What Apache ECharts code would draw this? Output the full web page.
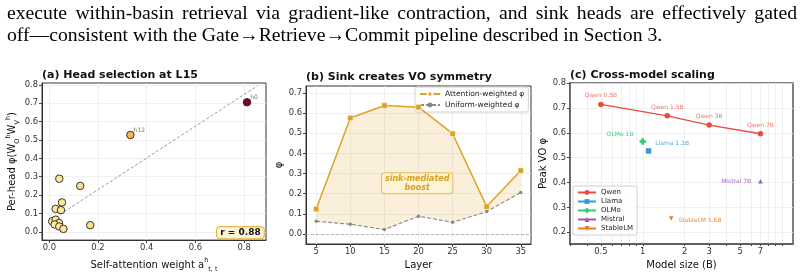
<!DOCTYPE html>
<html lang="en">
<head>
<meta charset="UTF-8">
<title>VO symmetry figure</title>
<script src="https://cdn.jsdelivr.net/npm/echarts@6/dist/echarts.min.js"></script>
<style>
  body { margin: 0; background: #fff; }
  #wrap { position: relative; width: 804px; height: 278px; overflow: hidden; }
  #main { position: absolute; left: 0; top: 0; width: 804px; height: 278px; }
  .txt { position: absolute; left: 7px; width: 790px; font-family: "Liberation Serif", serif;
         font-size: 19.7px; line-height: 22px; color: #000; white-space: nowrap; }
  #l1 { top: 1px; text-align: justify; text-align-last: justify; white-space: normal; }
  #l2 { top: 23px; }
</style>
</head>
<body>
<div id="wrap">
  <div id="main"></div>
  <div class="txt" id="l1">execute within-basin retrieval via gradient-like contraction, and sink heads are effectively gated</div>
  <div class="txt" id="l2">off—consistent with the Gate→Retrieve→Commit pipeline described in Section 3.</div>
</div>

<script type="text/javascript">
  // (a) per-head scatter at layer 15
  var headX = [0.812, 0.333, 0.041, 0.127, 0.052, 0.026, 0.048, 0.012, 0.026, 0.040, 0.022, 0.041, 0.058, 0.168];
  var headY = [0.705, 0.527, 0.289, 0.250, 0.160, 0.125, 0.118, 0.058, 0.066, 0.048, 0.040, 0.029, 0.016, 0.036];
  var headNames = ['h0', 'h12', '', '', '', '', '', '', '', '', '', '', '', ''];
  var fitX = [0.026, 0.855];
  var fitY = [0.079, 0.795];
  var corrText = 'r = 0.88';

  // (b) attention vs uniform weighted phi per layer
  var layers = [5, 10, 15, 20, 25, 30, 35];
  var attnPhi = [0.124, 0.576, 0.638, 0.630, 0.498, 0.136, 0.315];
  var unifPhi = [0.063, 0.048, 0.022, 0.088, 0.058, 0.111, 0.206];

  // (c) peak VO phi vs model size (B), x axis is log10 of size
  var qwenSize = [0.5, 1.5, 3, 7];
  var qwenPeak = [0.714, 0.668, 0.631, 0.596];
  var qwenNames = ['Qwen 0.5B', 'Qwen 1.5B', 'Qwen 3B', 'Qwen 7B'];
  var llamaSize = [1.1], llamaPeak = [0.527];
  var olmoSize = [1.0], olmoPeak = [0.565];
  var mistralSize = [7], mistralPeak = [0.405];
  var stableSize = [1.6], stablePeak = [0.255];
  var sizeTicks = [0.5, 1, 2, 3, 5, 7];
  var sizeMinor = [0.3, 0.4, 0.5, 0.6, 0.7, 0.8, 0.9, 1, 2, 3, 4, 5, 6, 7, 8, 9, 10];

  var FONT = 'DejaVu Sans';
  var GOLD = '#dba324';

  function pairs(xs, ys) {
    return xs.map(function (x, i) { return [x, ys[i]]; });
  }
  function logPairs(xs, ys) {
    return xs.map(function (x, i) { return [Math.log10(x), ys[i]]; });
  }
  function range(a, b, s) {
    var r = [];
    for (var v = a; v <= b + 1e-9; v += s) r.push(Math.round(v * 100) / 100);
    return r;
  }
  function fix1(v) { return v.toFixed(1); }

  var tickLabel = { fontFamily: FONT, fontSize: 8.4, color: '#333', margin: 4 };
  var nameStyle = { fontFamily: FONT, fontSize: 10, color: '#111' };
  var split = { show: true, lineStyle: { color: '#ebebeb', width: 0.8 } };
  var axLine = { show: true, onZero: false, lineStyle: { color: '#333', width: 1 } };
  var axLineC = { show: true, onZero: false, lineStyle: { color: '#555', width: 1.5 } };
  var tick = function (vals, len) {
    return { show: true, length: len || 3, customValues: vals, lineStyle: { color: '#444' } };
  };
  var titleStyle = { fontFamily: FONT, fontSize: 11, fontWeight: 'bold', color: '#111' };
  var subRich = {
    t: { fontFamily: FONT, fontSize: 10, color: '#111', lineHeight: 16, verticalAlign: 'middle' },
    s: { fontFamily: FONT, fontSize: 6.5, color: '#111', lineHeight: 16, verticalAlign: 'top' },
    b: { fontFamily: FONT, fontSize: 6.5, color: '#111', lineHeight: 16, verticalAlign: 'bottom' }
  };

  var myChart = echarts.init(document.getElementById('main'));

  var option = {
    backgroundColor: '#fff',
    animation: false,
    textStyle: { fontFamily: FONT },
    title: [
      { text: '(a) Head selection at L15', left: 42, top: 70, textStyle: titleStyle, padding: 0 },
      { text: '(b) Sink creates VO symmetry', left: 306, top: 72, textStyle: titleStyle, padding: 0 },
      { text: '(c) Cross-model scaling', left: 570, top: 70, textStyle: titleStyle, padding: 0 }
    ],
    grid: [
      { left: 42, top: 83, width: 224, height: 160, show: true, borderColor: '#333', borderWidth: 1 },
      { left: 306, top: 86, width: 225, height: 158, show: true, borderColor: '#333', borderWidth: 1 },
      { left: 570, top: 83, width: 223, height: 161, show: true, borderColor: '#555', borderWidth: 1.5 }
    ],
    visualMap: {
      show: false, seriesIndex: 0, dimension: 0, min: 0, max: 0.81,
      inRange: { color: ['#fde9a0', '#fcd884', '#fd9d43', '#cf2a1f', '#800026'] }
    },
    legend: [
      {
        data: ['Attention-weighted φ', 'Uniform-weighted φ'],
        orient: 'vertical', left: 415, top: 87, itemWidth: 20, itemHeight: 6, itemGap: 3,
        padding: [3, 4, 3, 4], borderColor: '#d0d0d0', borderWidth: 1, borderRadius: 2, backgroundColor: 'rgba(255,255,255,0.85)',
        textStyle: { fontFamily: FONT, fontSize: 7.5, color: '#222' }
      },
      {
        data: ['Qwen', 'Llama', 'OLMo', 'Mistral', 'StableLM'],
        orient: 'vertical', left: 573, top: 186, itemWidth: 18, itemHeight: 6, itemGap: 2,
        padding: [3, 4, 3, 4], borderColor: '#d0d0d0', borderWidth: 1, borderRadius: 2, backgroundColor: 'rgba(255,255,255,0.85)',
        textStyle: { fontFamily: FONT, fontSize: 7, color: '#222' }
      }
    ],
    xAxis: [
      {
        gridIndex: 0, type: 'value', min: -0.03, max: 0.89,
        name: '{t|Self-attention weight a}{s|h}{b|t, t}', nameLocation: 'middle', nameGap: 12,
        nameTextStyle: { fontFamily: FONT, fontSize: 10, color: '#111', rich: subRich },
        axisLine: axLine, axisTick: tick(range(0, 0.8, 0.2)),
        axisLabel: Object.assign({ customValues: range(0, 0.8, 0.2), formatter: fix1 }, tickLabel),
        splitLine: split
      },
      {
        gridIndex: 1, type: 'value', min: 3.5, max: 36.5,
        name: 'Layer', nameLocation: 'middle', nameGap: 16, nameTextStyle: nameStyle,
        axisLine: axLine, axisTick: tick(layers),
        axisLabel: Object.assign({ customValues: layers }, tickLabel),
        splitLine: split
      },
      {
        gridIndex: 2, type: 'value', min: Math.log10(0.3), max: Math.log10(12),
        name: 'Model size (B)', nameLocation: 'middle', nameGap: 16, nameTextStyle: nameStyle,
        axisLine: axLineC,
        axisTick: tick(sizeMinor.map(Math.log10), 2),
        axisLabel: Object.assign({
          customValues: sizeTicks.map(Math.log10),
          formatter: function (v) { return String(+Math.pow(10, v).toFixed(1)); }
        }, tickLabel),
        splitLine: split
      }
    ],
    yAxis: [
      {
        gridIndex: 0, type: 'value', min: -0.045, max: 0.81,
        name: '{t|Per-head φ(W}{b|O}{s|h}{t|W}{b|V}{s|h}{t|)}', nameLocation: 'middle', nameGap: 19,
        nameTextStyle: { fontFamily: FONT, fontSize: 10, color: '#111', rich: subRich },
        axisLine: axLine, axisTick: tick(range(0, 0.8, 0.1)),
        axisLabel: Object.assign({ customValues: range(0, 0.8, 0.1), formatter: fix1 }, tickLabel),
        splitLine: split
      },
      {
        gridIndex: 1, type: 'value', min: -0.05, max: 0.735,
        name: 'φ', nameLocation: 'middle', nameGap: 17, nameTextStyle: nameStyle,
        axisLine: axLine, axisTick: tick(range(0, 0.7, 0.1)),
        axisLabel: Object.assign({ customValues: range(0, 0.7, 0.1), formatter: fix1 }, tickLabel),
        splitLine: split
      },
      {
        gridIndex: 2, type: 'value', min: 0.153, max: 0.8,
        name: 'Peak VO φ', nameLocation: 'middle', nameGap: 19, nameTextStyle: nameStyle,
        axisLine: axLineC, axisTick: tick(range(0.2, 0.8, 0.1)),
        axisLabel: Object.assign({ customValues: range(0.2, 0.8, 0.1), formatter: fix1 }, tickLabel),
        splitLine: split
      }
    ],
    graphic: [
      {
        type: 'text', left: 216, top: 226, z: 100,
        style: {
          text: corrText, font: 'bold 9px "DejaVu Sans"', fill: '#111',
          backgroundColor: '#fdf3d6', borderColor: '#e3b54a', borderWidth: 1.2, borderRadius: 3, padding: [1, 3]
        }
      }
    ],
    series: [
      {
        type: 'scatter', xAxisIndex: 0, yAxisIndex: 0, z: 5,
        data: pairs(headX, headY), symbolSize: 7.5,
        itemStyle: { borderColor: '#222', borderWidth: 0.9, opacity: 1 },
        label: {
          show: true, position: 'right', distance: 0, offset: [-1, -5],
          formatter: function (p) { return headNames[p.dataIndex]; },
          fontFamily: FONT, fontSize: 6, color: '#777'
        }
      },
      {
        type: 'line', xAxisIndex: 0, yAxisIndex: 0, data: pairs(fitX, fitY), symbol: 'none', silent: true, z: 3,
        lineStyle: { color: '#999', width: 1, type: [3, 2] }
      },
      {
        type: 'custom', xAxisIndex: 1, yAxisIndex: 1, silent: true, z: 1,
        data: pairs(layers, attnPhi),
        encode: { x: 0, y: 1 },
        renderItem: function (params, api) {
          if (params.dataIndex !== 0) return;
          var top = layers.map(function (l, i) { return api.coord([l, attnPhi[i]]); });
          var bot = layers.map(function (l, i) { return api.coord([l, unifPhi[i]]); }).reverse();
          return { type: 'polygon', shape: { points: top.concat(bot) }, style: { fill: 'rgba(225,175,70,0.2)' } };
        }
      },
      {
        name: 'Attention-weighted φ', type: 'line', xAxisIndex: 1, yAxisIndex: 1, data: pairs(layers, attnPhi), z: 4,
        symbol: 'rect', symbolSize: 5.5, color: GOLD,
        lineStyle: { color: GOLD, width: 1.5 }, itemStyle: { color: GOLD, borderColor: '#fff', borderWidth: 0.5 },
        markLine: {
          silent: true, symbol: 'none', label: { show: false },
          lineStyle: { color: '#aaa', type: [3, 2], width: 0.8 }, data: [{ yAxis: 0 }]
        },
        markPoint: {
          silent: true, symbol: 'rect', symbolSize: 0,
          data: [{ coord: [19.8, 0.252] }],
          label: {
            show: true, position: 'inside', formatter: 'sink-mediated\nboost',
            fontFamily: FONT, fontSize: 8, fontWeight: 'bold', fontStyle: 'italic', color: '#d9a020',
            align: 'center', lineHeight: 9.5,
            backgroundColor: 'rgba(253,242,215,0.95)', borderColor: '#e6bd5c', borderWidth: 1, borderRadius: 3, padding: [1, 3, 0, 3]
          }
        }
      },
      {
        name: 'Uniform-weighted φ', type: 'line', xAxisIndex: 1, yAxisIndex: 1, data: pairs(layers, unifPhi), z: 4,
        symbol: 'circle', symbolSize: 3.5, color: '#888',
        lineStyle: { color: '#888', width: 1.1, type: [4, 2] }, itemStyle: { color: '#888' }
      },
      {
        name: 'Qwen', type: 'line', xAxisIndex: 2, yAxisIndex: 2, data: logPairs(qwenSize, qwenPeak), z: 4,
        symbol: 'circle', symbolSize: 5.5, color: '#e74c3c', lineStyle: { color: '#e74c3c', width: 1.3 },
        label: {
          show: true, position: 'top', distance: 3,
          formatter: function (p) { return qwenNames[p.dataIndex]; },
          fontFamily: FONT, fontSize: 6, color: 'rgba(231,76,60,0.75)'
        }
      },
      {
        name: 'Llama', type: 'line', xAxisIndex: 2, yAxisIndex: 2, data: logPairs(llamaSize, llamaPeak), z: 4,
        symbol: 'rect', symbolSize: 5.5, color: '#3498db',
        label: { show: true, position: 'right', distance: 4, offset: [0, -7], formatter: 'Llama 1.1B', fontFamily: FONT, fontSize: 6, color: 'rgba(52,152,219,0.85)' }
      },
      {
        name: 'OLMo', type: 'line', xAxisIndex: 2, yAxisIndex: 2, data: logPairs(olmoSize, olmoPeak), z: 4,
        symbol: 'path://M3,0h4v3h3v4h-3v3h-4v-3h-3v-4h3z', symbolSize: 6.5, color: '#2ecc71',
        label: { show: true, position: 'left', distance: 6, offset: [0, -7], formatter: 'OLMo 1B', fontFamily: FONT, fontSize: 6, color: 'rgba(46,204,113,0.9)' }
      },
      {
        name: 'Mistral', type: 'line', xAxisIndex: 2, yAxisIndex: 2, data: logPairs(mistralSize, mistralPeak), z: 4,
        symbol: 'triangle', symbolSize: 4.5, color: '#9b59b6',
        label: { show: true, position: 'left', distance: 7, formatter: 'Mistral 7B', fontFamily: FONT, fontSize: 6, color: 'rgba(155,89,182,0.9)' }
      },
      {
        name: 'StableLM', type: 'line', xAxisIndex: 2, yAxisIndex: 2, data: logPairs(stableSize, stablePeak), z: 4,
        symbol: 'path://M0,0L10,0L5,9Z', symbolSize: 4.5, color: '#e67e22',
        label: { show: true, position: 'right', distance: 5, offset: [0, 2], formatter: 'StableLM 1.6B', fontFamily: FONT, fontSize: 6, color: 'rgba(230,126,34,0.9)' }
      }
    ]
  };

  myChart.setOption(option);
</script>
</body>
</html>
